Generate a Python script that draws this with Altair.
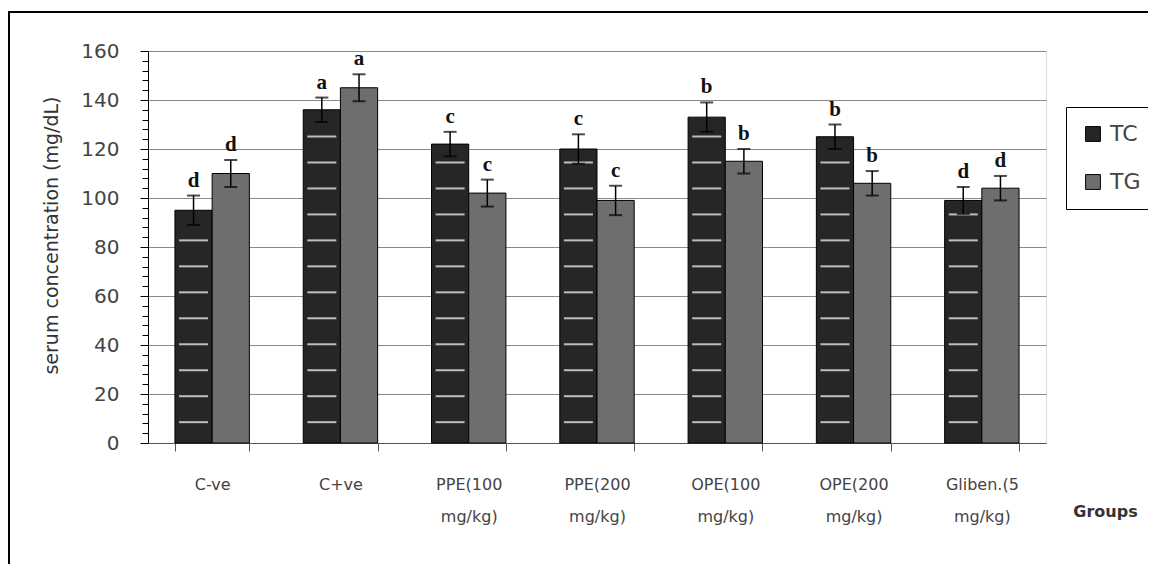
import altair as alt
import pandas as pd
import numpy as np

groups = ["C-ve", "C+ve", "PPE(100 mg/kg)", "PPE(200 mg/kg)",
          "OPE(100 mg/kg)", "OPE(200 mg/kg)", "Gliben.(5 mg/kg)"]
series = ["TC", "TG"]
tc_values = [95, 136, 122, 120, 133, 125, 99]
tc_errors = [6, 5, 5, 6, 6, 5, 5.5]
tg_values = [110, 145, 102, 99, 115, 106, 104]
tg_errors = [5.5, 5.5, 5.5, 6, 5, 5, 5]
tc_letters = ["d", "a", "c", "c", "b", "b", "d"]
tg_letters = ["d", "a", "c", "c", "b", "b", "d"]
y_ticks = list(range(0, 161, 4))

rows = []
for g, v, e, l in zip(groups, tc_values, tc_errors, tc_letters):
    rows.append({"group": g, "series": "TC", "value": v, "lo": v - e, "hi": v + e, "letter": l})
for g, v, e, l in zip(groups, tg_values, tg_errors, tg_letters):
    rows.append({"group": g, "series": "TG", "value": v, "lo": v - e, "hi": v + e, "letter": l})
df = pd.DataFrame(rows)

# decorative white stripe pattern inside TC bars
STRIPE_START, STRIPE_STEP = 8.5, 10.6
stripe_rows = []
for g, v in zip(groups, tc_values):
    for s in np.arange(STRIPE_START, v - 4, STRIPE_STEP):
        stripe_rows.append({"group": g, "series": "TC", "s": float(s)})
stripes = pd.DataFrame(stripe_rows)

font = "DejaVu Sans"
x_axis = alt.Axis(title="Groups", labelAngle=0,
                  labelExpr="split(datum.label, ' ')",
                  labelFont=font, labelFontSize=16, labelColor="#444",
                  labelLineHeight=32, labelPadding=25,
                  tickBand="extent", tickSize=8, tickColor="#555",
                  domainColor="#555", grid=False,
                  titleFont=font, titleFontSize=16, titleFontWeight="bold",
                  titleColor="#333", titleX=957, titleY=68,
                  titleAlign="center", titleBaseline="middle")
y_axis = alt.Axis(values=y_ticks, title="serum concentration (mg/dL)",
                  labelExpr="datum.value % 20 === 0 ? datum.label : ''",
                  labelOverlap=False,
                  labelFont=font, labelFontSize=20, labelColor="#444",
                  labelPadding=21,
                  tickColor="black",
                  tickSize={"condition": {"test": "datum.value % 20 !== 0", "value": 6}, "value": 8},
                  domainColor="black",
                  gridColor="#8a8a8a",
                  gridOpacity={"condition": {"test": "datum.value % 20 !== 0", "value": 0}, "value": 1},
                  titleFont=font, titleFontSize=19, titleFontWeight="normal",
                  titleColor="#333", titleX=-97, titleY=184,
                  titleAlign="center", titleBaseline="middle")
x_scale = alt.Scale(paddingInner=0.42, paddingOuter=0.21)
y_scale = alt.Scale(domain=[0, 160], nice=False)


def X():
    return alt.X("group:N", sort=groups, scale=x_scale, axis=x_axis)


def Y(field):
    return alt.Y(field, scale=y_scale, axis=y_axis)


xoff = alt.XOffset("series:N", sort=series, scale=alt.Scale(paddingInner=0, paddingOuter=0))

bars = alt.Chart(df).mark_bar(stroke="black", strokeWidth=1).encode(
    x=X(), xOffset=xoff, y=Y("value:Q"),
    color=alt.Color("series:N", sort=series,
                    scale=alt.Scale(domain=series, range=["#262626", "#6e6e6e"]),
                    legend=alt.Legend(title=None, orient="none", legendX=918, legendY=56,
                                      strokeColor="black", fillColor="white", padding=16,
                                      symbolType="square", symbolSize=220,
                                      symbolStrokeColor="black", symbolStrokeWidth=1,
                                      labelFont=font, labelFontSize=22, labelColor="#444",
                                      labelOffset=6, rowPadding=26)),
)

stripe_marks = alt.Chart(stripes).mark_tick(color="white", size=29, thickness=2).encode(
    x=X(), xOffset=xoff, y=Y("s:Q"),
)
err_rules = alt.Chart(df).mark_rule(color="black", strokeWidth=1.5).encode(
    x=X(), xOffset=xoff, y=Y("lo:Q"), y2="hi:Q",
)
caps_hi = alt.Chart(df).mark_tick(color="black", size=13, thickness=2).encode(
    x=X(), xOffset=xoff, y=Y("hi:Q"),
)
caps_lo = alt.Chart(df).mark_tick(color="black", size=13, thickness=2).encode(
    x=X(), xOffset=xoff, y=Y("lo:Q"),
)
letters = alt.Chart(df).mark_text(font="Liberation Serif", fontWeight="bold",
                                  fontSize=21, baseline="bottom", dy=-5,
                                  color="#111").encode(
    x=X(), xOffset=xoff, y=Y("hi:Q"), text="letter:N",
)

frame = alt.Chart(pd.DataFrame({"k": [0]})).mark_rect(
    fill=None, stroke="black", strokeWidth=2, filled=False).encode(
    x=alt.value(-139), x2=alt.value(1100), y=alt.value(-39), y2=alt.value(700),
)

chart = alt.layer(bars, stripe_marks, err_rules, caps_hi, caps_lo, letters, frame).properties(
    width=898, height=392,
    autosize=alt.AutoSizeParams(type="none"),
    padding={"left": 140, "top": 43, "right": 102, "bottom": 121},
).configure_view(stroke="#444", strokeWidth=1).configure(background="white")

chart.save("out.html", embed_options={"renderer": "svg", "actions": False})
